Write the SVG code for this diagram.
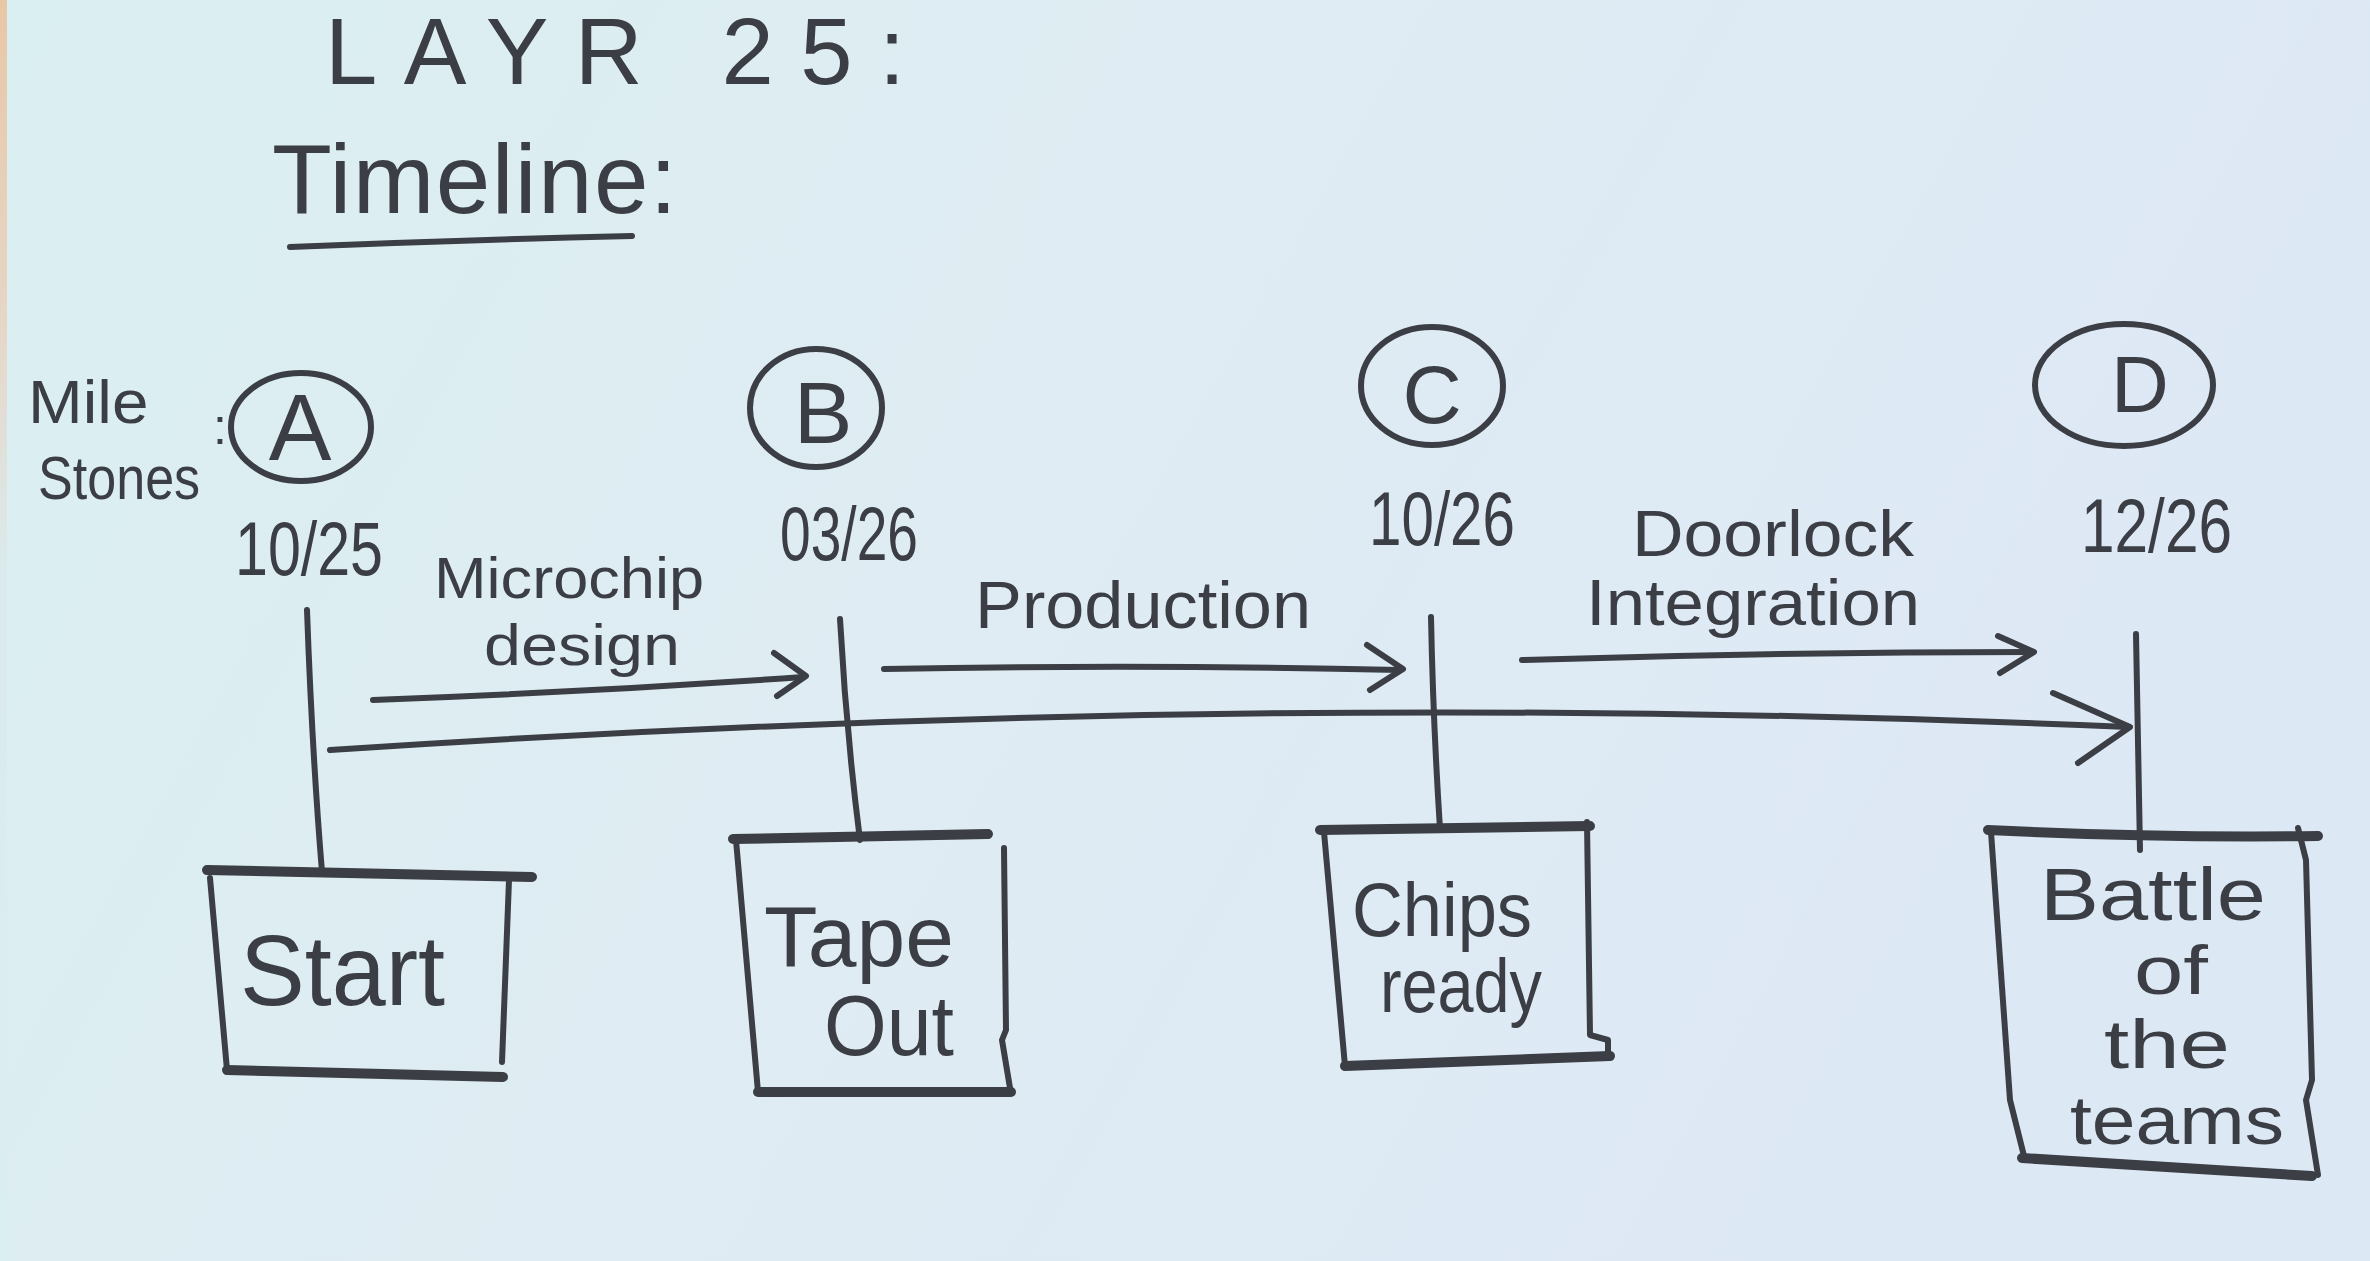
<svg xmlns="http://www.w3.org/2000/svg" width="2370" height="1261" viewBox="0 0 2370 1261">
<defs>
<linearGradient id="paper" x1="0" y1="0" x2="1" y2="0.3">
<stop offset="0" stop-color="#daeff1"/>
<stop offset="0.5" stop-color="#dfecf3"/>
<stop offset="1" stop-color="#dde8f5"/>
</linearGradient>
<linearGradient id="edge" x1="0" y1="0" x2="0" y2="1">
<stop offset="0" stop-color="#e8c7a6"/>
<stop offset="0.25" stop-color="#e6d6c6"/>
<stop offset="0.45" stop-color="#dbeaec"/>
<stop offset="1" stop-color="#daeff1"/>
</linearGradient>
<style>
.ink{fill:none;stroke:#3b3e44;stroke-linecap:round;stroke-linejoin:round;stroke-width:6}
.thick{stroke-width:10}
.t{font-family:"Liberation Sans","Open Sans",sans-serif;fill:#3b3e44}
</style>
</defs>
<rect x="0" y="0" width="2370" height="1261" fill="url(#paper)"/>
<rect x="0" y="0" width="7" height="1261" fill="url(#edge)"/>

<g id="title">
<text class="t" x="325" y="84" font-size="94" textLength="580" lengthAdjust="spacing">LAYR 25:</text>
<text class="t" x="272" y="213" font-size="98" textLength="405" lengthAdjust="spacing">Timeline:</text>
<path class="ink" stroke-width="9" d="M290,247 Q460,240 632,236"/>
</g>

<g id="milestones-label">
<text class="t" transform="translate(28,423) scale(1.06,1)" font-size="62">Mile</text>
<text class="t" transform="translate(38,499) scale(0.84,1)" font-size="62">Stones</text>
<text class="t" x="213" y="444" font-size="50">:</text>
</g>

<g id="milestone-A">
<ellipse class="ink" cx="301" cy="427" rx="70" ry="54"/>
<text class="t" x="300" y="460" font-size="94" text-anchor="middle">A</text>
<text class="t" x="235" y="575" font-size="76" textLength="148" lengthAdjust="spacingAndGlyphs">10/25</text>
</g>
<g id="milestone-B">
<ellipse class="ink" cx="816" cy="408" rx="66" ry="59"/>
<text class="t" x="823" y="443" font-size="88" text-anchor="middle">B</text>
<text class="t" x="780" y="560" font-size="76" textLength="138" lengthAdjust="spacingAndGlyphs">03/26</text>
</g>
<g id="milestone-C">
<ellipse class="ink" cx="1432" cy="386" rx="71" ry="59"/>
<text class="t" x="1432" y="423" font-size="82" text-anchor="middle">C</text>
<text class="t" x="1369" y="545" font-size="76" textLength="146" lengthAdjust="spacingAndGlyphs">10/26</text>
</g>
<g id="milestone-D">
<ellipse class="ink" cx="2124" cy="385" rx="89" ry="61"/>
<text class="t" x="2140" y="412" font-size="80" text-anchor="middle">D</text>
<text class="t" x="2081" y="552" font-size="76" textLength="151" lengthAdjust="spacingAndGlyphs">12/26</text>
</g>

<g id="label-microchip">
<text class="t" x="434" y="598" font-size="58" textLength="270" lengthAdjust="spacingAndGlyphs">Microchip</text>
<text class="t" x="484" y="665" font-size="58" textLength="196" lengthAdjust="spacingAndGlyphs">design</text>
</g>
<g id="label-production">
<text class="t" x="975" y="628" font-size="66" textLength="336" lengthAdjust="spacingAndGlyphs">Production</text>
</g>
<g id="label-doorlock">
<text class="t" x="1632" y="556" font-size="64" textLength="282" lengthAdjust="spacingAndGlyphs">Doorlock</text>
<text class="t" x="1586" y="625" font-size="64" textLength="334" lengthAdjust="spacingAndGlyphs">Integration</text>
</g>

<g id="box-start">
<path class="ink thick" d="M207,870 L532,877"/>
<path class="ink" d="M210,878 L227,1070"/>
<path class="ink thick" d="M227,1070 L503,1077"/>
<path class="ink" d="M509,880 L502,1062"/>
<text class="t" x="240" y="1005" font-size="100" textLength="205" lengthAdjust="spacingAndGlyphs">Start</text>
</g>
<g id="box-tapeout">
<path class="ink thick" d="M733,839 L988,834"/>
<path class="ink" d="M736,840 L758,1092"/>
<path class="ink thick" d="M758,1092 L1011,1092"/>
<path class="ink" d="M1004,848 L1006,1030 L1002,1040 L1010,1088"/>
<text class="t" x="764" y="966" font-size="86" textLength="190" lengthAdjust="spacingAndGlyphs">Tape</text>
<text class="t" x="824" y="1055" font-size="86" textLength="130" lengthAdjust="spacingAndGlyphs">Out</text>
</g>
<g id="box-chips">
<path class="ink thick" d="M1320,830 L1590,826"/>
<path class="ink" d="M1324,832 L1345,1066"/>
<path class="ink thick" d="M1345,1066 L1610,1056"/>
<path class="ink" d="M1587,822 L1590,1035 L1608,1040 L1608,1057"/>
<text class="t" x="1352" y="936" font-size="76" textLength="180" lengthAdjust="spacingAndGlyphs">Chips</text>
<text class="t" x="1380" y="1012" font-size="76" textLength="162" lengthAdjust="spacingAndGlyphs">ready</text>
</g>
<g id="box-battle">
<path class="ink thick" d="M1988,830 Q2150,838 2318,836"/>
<path class="ink" d="M1991,832 L2010,1100 L2025,1160"/>
<path class="ink thick" d="M2022,1158 L2312,1176"/>
<path class="ink" d="M2298,828 L2306,860 L2312,1080 L2306,1100 L2318,1175"/>
<text class="t" x="2040" y="920" font-size="74" textLength="226" lengthAdjust="spacingAndGlyphs">Battle</text>
<text class="t" x="2134" y="994" font-size="68" textLength="74" lengthAdjust="spacingAndGlyphs">of</text>
<text class="t" x="2104" y="1068" font-size="68" textLength="126" lengthAdjust="spacingAndGlyphs">the</text>
<text class="t" x="2070" y="1144" font-size="68" textLength="214" lengthAdjust="spacingAndGlyphs">teams</text>
</g>

<g id="connectors">
<path class="ink" d="M307,610 Q312,750 322,872"/>
<path class="ink" d="M840,619 Q846,730 860,840"/>
<path class="ink" d="M1431,617 Q1433,720 1440,829"/>
<path class="ink" d="M2136,634 Q2138,740 2140,850"/>
<path class="ink" stroke-width="7" d="M373,700 Q590,692 803,677"/>
<path class="ink" stroke-width="7" d="M774,653 L806,676 L777,696"/>
<path class="ink" stroke-width="7" d="M884,669 Q1140,664 1400,670"/>
<path class="ink" stroke-width="7" d="M1367,645 L1403,669 L1370,690"/>
<path class="ink" stroke-width="7" d="M1522,660 Q1780,652 2032,652"/>
<path class="ink" stroke-width="7" d="M1998,636 L2034,652 L2000,673"/>
<path class="ink" stroke-width="7" d="M330,750 C900,712 1500,700 2128,727"/>
<path class="ink" stroke-width="8" d="M2053,693 L2130,727 L2078,763"/>
</g>
</svg>
